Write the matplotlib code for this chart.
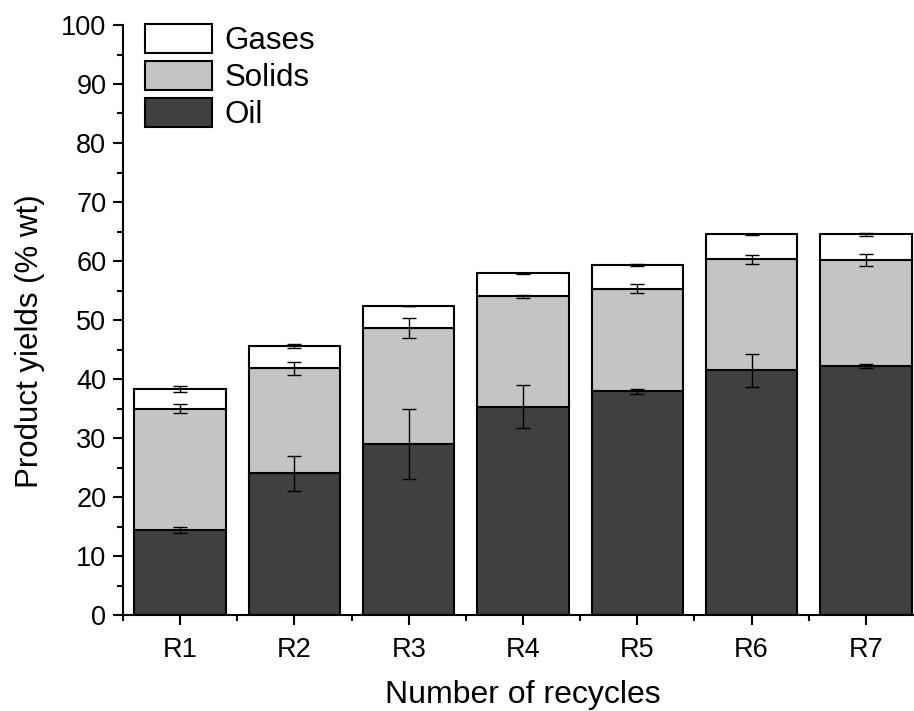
import matplotlib.pyplot as plt
from matplotlib.ticker import MultipleLocator

plt.rcParams['font.family'] = ['Liberation Sans', 'DejaVu Sans']

recycles = ["R1", "R2", "R3", "R4", "R5", "R6", "R7"]

# cumulative tops
oil = [14.4, 24.0, 29.0, 35.3, 37.9, 41.5, 42.2]
oil_err = [0.45, 2.9, 5.9, 3.6, 0.4, 2.8, 0.3]
solids_top = [35.0, 41.8, 48.6, 54.0, 55.3, 60.3, 60.2]
solids_err = [0.73, 1.1, 1.7, 0.25, 0.76, 0.8, 1.07]
gases_top = [38.3, 45.6, 52.3, 57.9, 59.3, 64.5, 64.5]
gases_err = [0.54, 0.3, 0.0, 0.05, 0.2, 0.1, 0.2]

solids = [s - o for s, o in zip(solids_top, oil)]
gases = [g - s for g, s in zip(gases_top, solids_top)]


def main():
    fig = plt.figure(figsize=(9.14, 7.11), dpi=100)
    ax = fig.add_axes([123 / 914, 1 - 615 / 711, 800 / 914, 590 / 711])

    x = list(range(len(recycles)))
    w = 0.8
    err_kw = dict(ecolor="black", elinewidth=1.0, capsize=5, capthick=1.0)

    ax.bar(x, oil, w, color="#404040", edgecolor="black", linewidth=1.5,
           yerr=oil_err, error_kw=err_kw, label="Oil", zorder=2)
    ax.bar(x, solids, w, bottom=oil, color="#c4c4c4", edgecolor="black",
           linewidth=1.5, yerr=solids_err, error_kw=err_kw, label="Solids", zorder=2)
    ax.bar(x, gases, w, bottom=solids_top, color="white", edgecolor="black",
           linewidth=1.5, yerr=gases_err, error_kw=err_kw, label="Gases", zorder=2)

    ax.set_xlim(-0.5, 6.5)
    ax.set_ylim(0, 100)
    ax.set_xticks(x)
    ax.set_xticklabels(recycles)
    ax.set_xticks([i + 0.5 for i in range(-1, 7)], minor=True)
    ax.yaxis.set_major_locator(MultipleLocator(10))
    ax.yaxis.set_minor_locator(MultipleLocator(5))

    for side in ["top", "right"]:
        ax.spines[side].set_visible(False)
    for side in ["left", "bottom"]:
        ax.spines[side].set_linewidth(1.5)

    ax.tick_params(which="major", direction="out", length=7, width=1.5, labelsize=19.5)
    ax.tick_params(which="minor", direction="out", length=4, width=1.5)
    ax.tick_params(axis="x", which="major", pad=9)
    ax.tick_params(axis="y", which="major", pad=5)

    ax.set_xlabel("Number of recycles", fontsize=23)
    ax.xaxis.set_label_coords(0.5, -0.11)
    ax.set_ylabel("Product yields (% wt)", fontsize=22.5)
    ax.yaxis.set_label_coords(-0.097, 0.464)

    handles, labels = ax.get_legend_handles_labels()
    ax.legend(handles[::-1], labels[::-1], loc="upper left",
              bbox_to_anchor=(0.027, 1.002), frameon=False, fontsize=22.5,
              handlelength=2.15, handleheight=1.07, labelspacing=0.15,
              handletextpad=0.4, borderaxespad=0.0, borderpad=0.0)

    fig.savefig("out.png", dpi=100)


if __name__ == "__main__":
    main()
